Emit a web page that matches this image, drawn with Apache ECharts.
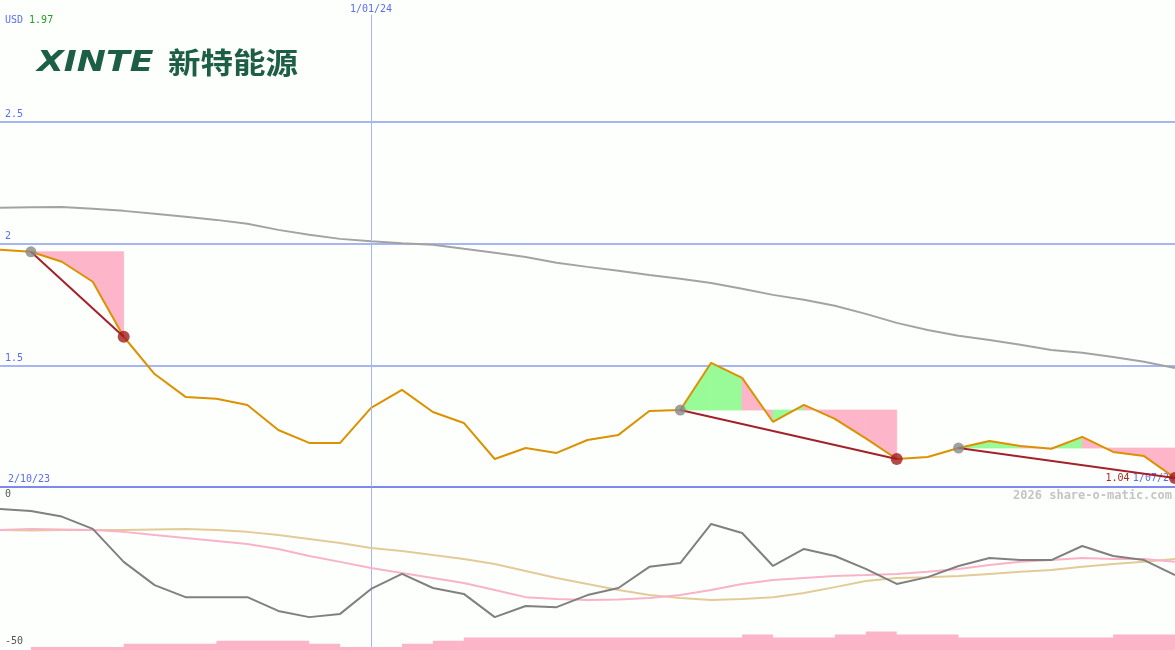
<!DOCTYPE html>
<html><head><meta charset="utf-8">
<script src="https://cdn.jsdelivr.net/npm/echarts@6/dist/echarts.min.js"></script>
<style>html,body{margin:0;padding:0;background:#fdfffc;overflow:hidden;}#c{width:1175px;height:650px;}</style>
</head><body><div id="c"></div>
<script>
const dates = ["2/10/23","16/10/23","23/10/23","30/10/23","6/11/23","13/11/23","20/11/23","27/11/23","4/12/23","11/12/23","18/12/23","25/12/23","1/01/24","8/01/24","15/01/24","22/01/24","29/01/24","5/02/24","12/02/24","19/02/24","26/02/24","4/03/24","11/03/24","18/03/24","25/03/24","1/04/24","8/04/24","15/04/24","22/04/24","29/04/24","6/05/24","13/05/24","20/05/24","27/05/24","3/06/24","10/06/24","17/06/24","24/06/24","1/07/24"];
const price = [1.974,1.966,1.925,1.843,1.617,1.464,1.370,1.362,1.337,1.234,1.181,1.181,1.325,1.399,1.308,1.263,1.115,1.160,1.140,1.193,1.214,1.312,1.316,1.510,1.448,1.267,1.337,1.280,1.200,1.115,1.123,1.160,1.189,1.168,1.157,1.206,1.144,1.127,1.037];
const movingAvg = [2.147,2.149,2.150,2.143,2.134,2.122,2.110,2.097,2.081,2.056,2.036,2.019,2.009,2.001,1.995,1.978,1.962,1.945,1.921,1.904,1.888,1.871,1.855,1.838,1.814,1.789,1.769,1.744,1.711,1.674,1.645,1.621,1.604,1.584,1.563,1.551,1.534,1.514,1.489];
const oscGray = [-2.7,-3.4,-5.3,-9.5,-20.7,-28.6,-32.7,-32.7,-32.7,-37.4,-39.5,-38.4,-29.9,-24.8,-29.6,-31.6,-39.5,-35.7,-36.1,-32.0,-29.6,-22.4,-21.1,-7.8,-10.9,-22.1,-16.3,-18.7,-23.1,-28.2,-25.9,-22.1,-19.4,-20.1,-20.1,-15.3,-18.7,-20.1,-25.2];
const oscPink = [-9.9,-9.5,-9.7,-9.9,-10.5,-11.6,-12.6,-13.6,-14.6,-16.3,-18.7,-20.7,-22.8,-24.5,-26.2,-27.9,-30.3,-32.7,-33.3,-33.7,-33.5,-33.0,-32.0,-30.3,-28.2,-26.9,-26.2,-25.5,-25.2,-24.8,-24.1,-23.1,-21.8,-20.7,-20.1,-19.4,-19.7,-19.7,-20.7];
const oscTan = [-9.9,-10.0,-9.9,-9.9,-9.9,-9.7,-9.5,-9.9,-10.5,-11.6,-12.9,-14.3,-16.0,-17.0,-18.4,-19.7,-21.4,-23.8,-26.2,-28.2,-30.3,-32.0,-33.0,-33.7,-33.3,-32.7,-31.3,-29.3,-27.2,-26.2,-25.9,-25.5,-24.8,-24.1,-23.5,-22.4,-21.4,-20.7,-19.7];
const volume = [0,1,1,1,2,2,2,3,3,3,2,1,1,2,3,4,4,4,4,4,4,4,4,4,5,4,4,5,6,5,5,4,4,4,4,4,5,5];
const trends = [[1,4],[22,29],[31,38]];
const markDate = "1/01/24";
const currency = "USD";
const logoLatin = "XINTE";
const logoCJK = "新特能源";
const watermark = "2026 share-o-matic.com";

const last = dates.length - 1;
const markIdx = dates.indexOf(markDate);
const MONO = '"DejaVu Sans Mono", monospace';
const BLUE = '#5a6cf0';
const PINK = '#fdb5c9';
const GREEN = '#98fb98';

const fillData = [];
trends.forEach(([s, e]) => {
  const lvl = price[s];
  for (let i = s; i < e; i++) fillData.push([i, price[i], price[i + 1], lvl, price[i + 1] >= lvl ? 1 : 0]);
});

const chart = echarts.init(document.getElementById('c'));
chart.setOption({
  animation: false,
  backgroundColor: '#fdfffc',
  grid: [
    {left: 0, right: 0, top: 0, height: 487, containLabel: false, outerBoundsMode: 'none'},
    {left: 0, right: 0, top: 487, bottom: 2, containLabel: false, outerBoundsMode: 'none'},
    {left: 0, right: 0, bottom: 0, height: 31, containLabel: false, outerBoundsMode: 'none'}
  ],
  xAxis: [
    {gridIndex: 0, type: 'category', data: dates, boundaryGap: false,
      axisLine: {lineStyle: {color: '#7d89ec', width: 2}}, axisTick: {show: false},
      axisLabel: {inside: true, margin: 3, interval: (i) => i === 0 || i === last,
        alignMinLabel: 'left', alignMaxLabel: 'right', padding: [0, 0, 0, 8],
        formatter: (v, i) => i === last ? '{r|' + price[last].toFixed(2) + '} {d|' + v + '}' : '{d|' + v + '}',
        rich: {r: {color: '#a52a2a', fontSize: 10, fontFamily: MONO}, d: {color: BLUE, fontSize: 10, fontFamily: MONO}}},
      splitLine: {show: false}},
    {gridIndex: 0, type: 'category', data: dates, boundaryGap: false, position: 'top',
      axisLine: {show: false}, axisTick: {show: false},
      axisLabel: {inside: true, margin: 4, interval: (i) => i === markIdx, color: BLUE, fontSize: 10, fontFamily: MONO},
      splitLine: {show: false}},
    {gridIndex: 1, type: 'category', data: dates, boundaryGap: false,
      axisLine: {show: false}, axisTick: {show: false}, axisLabel: {show: false},
      splitLine: {show: true, interval: (i) => i === markIdx, lineStyle: {color: '#a7b5f5', width: 1}}},
    {gridIndex: 2, type: 'category', data: dates, boundaryGap: false, show: false}
  ],
  yAxis: [
    {gridIndex: 0, type: 'value', min: 1, max: 3, interval: 0.5,
      axisLine: {show: false}, axisTick: {show: false},
      axisLabel: {inside: true, margin: 5, verticalAlign: 'bottom', padding: [0, 0, 2, 0], color: BLUE, fontSize: 10, fontFamily: MONO,
        showMinLabel: false, showMaxLabel: false},
      splitLine: {show: true, showMinLine: false, showMaxLine: false, lineStyle: {color: '#a7b5f3', width: 2}}},
    {gridIndex: 1, type: 'value', min: -50, max: 4.762, interval: 50,
      axisLine: {show: false}, axisTick: {show: false},
      axisLabel: {inside: true, margin: 5, verticalAlign: 'bottom', padding: [0, 0, 2, 0], color: '#555', fontSize: 10, fontFamily: MONO,
        showMaxLabel: false, formatter: (v) => (v === 0 || v === -50) ? String(v) : ''},
      splitLine: {show: false}},
    {gridIndex: 2, type: 'value', min: 0, max: 10, show: false}
  ],
  series: [
    {type: 'custom', xAxisIndex: 0, yAxisIndex: 0, z: 1, data: fillData, encode: {x: 0, y: [1, 2, 3]},
      renderItem: (params, api) => {
        const i = api.value(0);
        const p0 = api.coord([i, api.value(1)]);
        const p1 = api.coord([i + 1, api.value(2)]);
        const l0 = api.coord([i, api.value(3)]);
        const l1 = api.coord([i + 1, api.value(3)]);
        const c = api.value(4) ? GREEN : PINK;
        return {type: 'polygon', shape: {points: [l0, p0, p1, l1]},
          style: {fill: c, stroke: c, lineWidth: 0.8}};
      }},
    {type: 'line', xAxisIndex: 0, yAxisIndex: 0, z: 2, data: movingAvg, symbol: 'none',
      lineStyle: {color: '#a3a3a3', width: 2},
      markLine: {silent: true, symbol: 'none', label: {show: false},
        lineStyle: {color: '#a7b5f5', width: 1, type: 'solid'},
        data: [[{coord: [markDate, 2.94]}, {coord: [markDate, 1]}]]}},
    {type: 'line', xAxisIndex: 0, yAxisIndex: 0, z: 3, data: price, symbol: 'none',
      lineStyle: {color: '#dc9100', width: 2}},
    ...trends.map(([s, e]) => ({type: 'line', xAxisIndex: 0, yAxisIndex: 0, z: 4, symbol: 'none',
      data: [[s, price[s]], [e, price[e]]], lineStyle: {color: '#a3212a', width: 2}})),
    {type: 'scatter', xAxisIndex: 0, yAxisIndex: 0, z: 5, symbolSize: 11,
      data: trends.map(t => [t[0], price[t[0]]]), itemStyle: {color: '#888888'}},
    {type: 'scatter', xAxisIndex: 0, yAxisIndex: 0, z: 5, symbolSize: 12,
      data: trends.map(t => [t[1], price[t[1]]]), itemStyle: {color: '#a31d1d'}},
    {type: 'line', xAxisIndex: 2, yAxisIndex: 1, data: oscTan, symbol: 'none', lineStyle: {color: '#e3cb98', width: 2}},
    {type: 'line', xAxisIndex: 2, yAxisIndex: 1, data: oscPink, symbol: 'none', lineStyle: {color: '#f9b3c9', width: 2}},
    {type: 'line', xAxisIndex: 2, yAxisIndex: 1, data: oscGray, symbol: 'none', lineStyle: {color: '#808080', width: 2}},
    {type: 'line', xAxisIndex: 3, yAxisIndex: 2, data: volume.concat([volume[volume.length - 1]]), step: 'end', symbol: 'none',
      lineStyle: {width: 0}, areaStyle: {color: '#fbb4c8', opacity: 1}}
  ],
  graphic: [
    {type: 'text', x: 5, y: 20, z: 10, style: {text: '{u|' + currency + '} {v|' + price[0].toFixed(2) + '}',
      verticalAlign: 'middle', font: '10px ' + MONO,
      rich: {u: {fill: BLUE, font: '10px ' + MONO}, v: {fill: '#22a022', font: '10px ' + MONO}}}},
    {type: 'text', x: 37, y: 63, scaleX: 1.2, z: 10, style: {text: logoLatin, fill: '#1d5e47',
      font: 'italic bold 29px "DejaVu Sans"', verticalAlign: 'middle'}},
    {type: 'text', x: 168, y: 63, scaleX: 1.12, z: 10, style: {text: logoCJK, fill: '#1d5e47',
      font: 'bold 29px "Noto Sans CJK SC"', verticalAlign: 'middle'}},
    {type: 'text', right: 3, top: 490, z: 10, style: {text: watermark, fill: '#c4c4c4',
      font: 'bold 12px ' + MONO}}
  ]
});
</script></body></html>
